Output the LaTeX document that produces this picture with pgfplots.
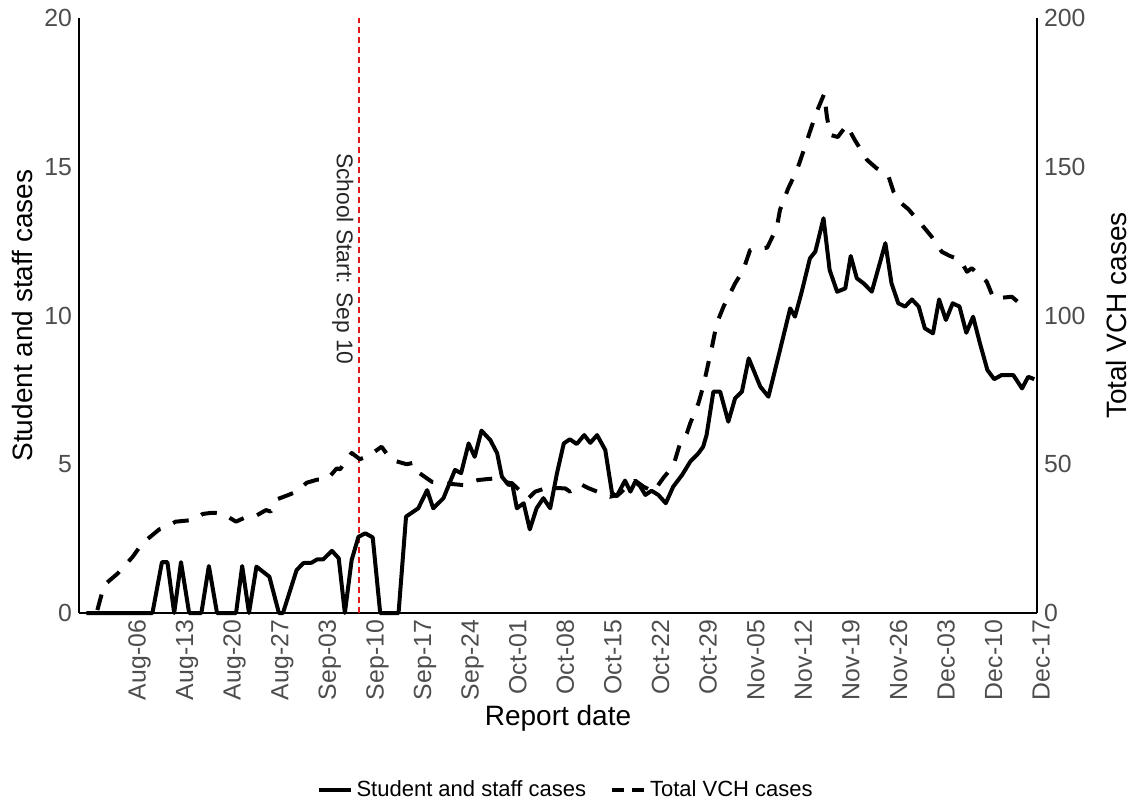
\documentclass[border=0pt]{standalone}
\usepackage{pgfplots}
\pgfplotsset{compat=1.18}
\usepackage{fontspec}
\setmainfont{Liberation Sans}
\definecolor{ticktext}{RGB}{77,77,77}
\definecolor{schoolred}{RGB}{225,25,25}
\pgfplotsset{
  common/.style={
    width=479pt, height=297.5pt, scale only axis,
    anchor=south west, at={(0pt,0pt)},
    xmin=-6.2, xmax=134.7,
    clip=false,
    tick style={draw=none},
    major tick length=0pt,
    /pgf/number format/assume math mode=true,
    tick label style={font=\fontsize{12.4}{14}\selectfont, text=ticktext},
    label style={font=\fontsize{14}{16}\selectfont},
    axis line style={line width=0.9pt, -},
  }
}
\begin{document}
\begin{tikzpicture}
\path[use as bounding box] (-39.5pt,-96pt) rectangle (527.5pt,306.5pt);
\begin{axis}[common,
  axis x line*=bottom, axis y line*=left,
  ymin=0, ymax=20, ytick={0,5,10,15,20},
  xtick={0,7,...,133},
  xticklabels={Aug-06,Aug-13,Aug-20,Aug-27,Sep-03,Sep-10,Sep-17,Sep-24,Oct-01,Oct-08,Oct-15,Oct-22,Oct-29,Nov-05,Nov-12,Nov-19,Nov-26,Dec-03,Dec-10,Dec-17},
  xticklabel style={rotate=90, anchor=north east},
  xlabel={Report date},
  xlabel style={at={(axis description cs:0.5,-0.1765)}, anchor=center},
  ylabel={Student and staff cases},
  ylabel style={at={(axis description cs:-0.0595,0.5)}, anchor=center},
]
\addplot[schoolred, line width=0.75pt, dash pattern=on 3pt off 2pt, forget plot] coordinates {(35,0) (35,20)};
\node[rotate=-90, font=\fontsize{11.4}{13}\selectfont, text=black!85] at (axis cs:32.6,11.9) {School Start: Sep 10};
\addplot[black, line width=2pt, line join=round] coordinates {
(-5.1,0) (4.6,0) (6.0,1.71) (6.8,1.71) (7.8,0) (8.8,1.71) (10.0,0) (11.8,0)
(12.9,1.58) (14.1,0) (16.9,0) (17.8,1.58) (18.8,0) (19.9,1.56) (21.8,1.22)
(23.2,0) (23.8,0) (25.8,1.44) (26.8,1.68) (28.0,1.69) (28.8,1.80) (29.7,1.80)
(31.0,2.09) (32.0,1.84) (32.9,0) (33.9,1.78) (34.9,2.56) (35.9,2.68) (37.0,2.54)
(38.1,0) (40.8,0) (41.9,3.24) (43.7,3.52) (45.0,4.13) (45.9,3.52) (47.4,3.86)
(49.1,4.81) (50.0,4.70) (51.1,5.70) (52.0,5.25) (53.0,6.13) (54.3,5.81)
(55.3,5.37) (56.0,4.58) (57.0,4.30) (57.5,4.36) (58.2,3.52) (59.2,3.69)
(60.1,2.81) (61.1,3.52) (62.1,3.86) (63.1,3.52) (64.1,4.70) (65.1,5.70)
(66.0,5.84) (67.0,5.68) (68.1,5.98) (69.0,5.72) (70.0,5.98) (71.2,5.48)
(72.2,4.02) (72.9,3.93) (74.1,4.45) (74.9,4.08) (75.6,4.41) (76.3,4.27)
(77.1,3.97) (78.0,4.11) (79.0,3.97) (80.1,3.69) (81.2,4.25) (82.5,4.64)
(83.7,5.09) (84.9,5.37) (85.6,5.59) (86.1,5.98) (87.1,7.44) (88.1,7.44)
(89.3,6.43) (90.3,7.22) (91.3,7.44) (92.3,8.56) (94.0,7.61) (95.2,7.27)
(96.9,8.84) (98.4,10.24) (99.1,9.96) (100.1,10.80) (101.3,11.92) (102.1,12.15)
(103.3,13.27) (104.2,11.53) (105.3,10.80) (106.5,10.91) (107.3,12.0) (108.2,11.25)
(109.2,11.08) (110.4,10.80) (112.4,12.43) (113.3,11.08) (114.3,10.41) (115.3,10.30)
(116.3,10.54) (117.3,10.30) (118.2,9.57) (119.4,9.40) (120.3,10.54) (121.3,9.85)
(122.3,10.41) (123.3,10.30) (124.3,9.42) (125.3,9.96) (126.3,9.07) (127.4,8.17)
(128.4,7.86) (129.5,8.0) (131.2,8.0) (132.5,7.55) (133.4,7.94) (134.3,7.86)
};
\end{axis}
\begin{axis}[common,
  axis x line=none, axis y line*=right,
  ymin=0, ymax=200, ytick={0,50,100,150,200},
  xtick=\empty,
  ylabel={Total VCH cases},
  ylabel style={at={(axis description cs:1.0825,0.5)}, anchor=center},
  legend style={at={(0.509,-0.2975)}, anchor=center, draw=none, fill=none,
    font=\fontsize{11}{13}\selectfont, legend columns=2,
    /tikz/every even column/.append style={column sep=10pt}},
  legend image code/.code={\draw[#1] (0pt,0pt) -- (16pt,0pt);},
]
\addlegendimage{black, line width=2pt}
\addlegendentry{Student and staff cases}
\addlegendimage{black, line width=2pt, dash pattern=on 6pt off 4pt}
\addlegendentry{Total VCH cases}
\addplot[black, line width=2pt, line join=round, dash pattern=on 8pt off 7pt, forget plot] coordinates {
(-3.5,1) (-2.5,9.4) (-0.5,13.3) (1.7,18.9) (3.1,23.4) (5.6,28.1) (6.6,28.8)
(8.0,30.7) (10.7,31.3) (12.0,33.3) (13.4,33.7) (14.9,33.5) (16.1,31.8) (16.9,30.7)
(18.3,32.2) (19.7,32.5) (21.3,34.6) (22.0,34.1) (23.0,38.3) (24.4,39.5) (25.8,40.8)
(27.3,43.8) (28.8,44.8) (30.3,44.9) (31.7,48.6) (32.2,48.3) (33.9,53.8) (35.1,51.7)
(36.4,52.8) (38.3,55.9) (39.7,51.5) (42.0,50.0) (43.0,50.5) (43.7,47.3) (45.7,44.1)
(47.6,43.6) (50.3,43.0) (51.6,44.1) (52.5,44.7) (53.8,45.0) (55.3,45.3) (56.2,44.1)
(57.5,43.6) (58.7,41) (59.9,38.6) (60.9,40.8) (62.4,41.9) (63.8,42) (65.3,41.9)
(66.0,40.8) (67.5,43.4) (68.7,42) (70.0,40.8) (71.9,39.1) (73.1,39.7) (74.4,42.5)
(75.6,44.5) (76.8,42.5) (78.3,40.8) (79.8,45.6) (81.2,49.4) (82.2,57.0) (83.2,60.4)
(83.7,63.8) (84.9,70.5) (85.6,76.1) (86.9,89.5) (87.6,97.4) (88.6,103) (90.3,110.8)
(91.5,115.3) (92.5,122) (95.0,122.8) (96.4,129.3) (96.9,135.5) (98.1,142.7)
(99.4,148.9) (100.4,155.6) (101.3,161.8) (102.3,168.5) (103.4,174.5) (103.8,166.8)
(104.3,160.7) (105.4,160) (106.7,164) (107.9,159) (109.7,152.3) (111.1,149.5)
(112.8,147.2) (113.6,141.6) (114.6,138) (115.8,135.7) (116.5,133.8) (117.5,131.2)
(119.2,126.5) (120.7,121.4) (121.9,120) (123.4,118.7) (124.4,114.7) (125.1,115.9)
(127.3,111.4) (128.3,105.8) (129.6,106) (131.0,106.3) (132.7,103) (133.2,103.5)
};
\end{axis}
\end{tikzpicture}
\end{document}
